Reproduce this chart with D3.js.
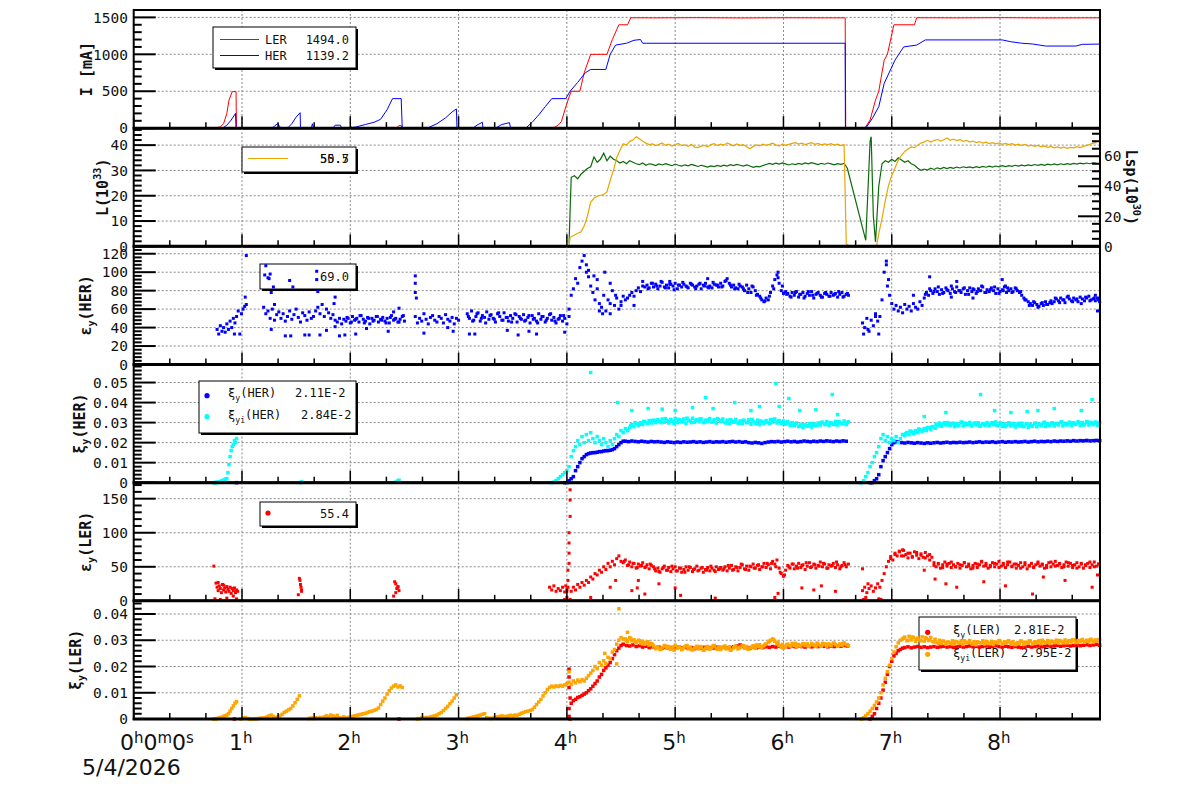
<!DOCTYPE html>
<html>
<head>
<meta charset="utf-8">
<script src="https://cdn.jsdelivr.net/npm/d3@7"></script>
<style>
body { margin: 0; background: #fff; }
svg { display: block; }
text { font-family: "DejaVu Sans Mono", monospace; fill: #111; }
</style>
</head>
<body>
<script>
// ---- data (time in hours since 0h0m0s) ----
var tMax = 8.923;
var hourTicks = [1, 2, 3, 4, 5, 6, 7, 8];
var dateLabel = "5/4/2026";

// panel 1 : beam currents [mA]
var curLER = [[0,0],[0.76,0],[0.80,20],[0.83,60],[0.86,200],[0.88,380],[0.91,495],[0.945,495],[0.947,230],[0.95,0],[0.96,8],
  [2.43,8],[2.45,35],[2.47,35],[2.48,8],[3.88,8],[3.92,40],[3.95,90],[3.99,290],[4.02,420],[4.04,500],[4.12,500],
  [4.16,750],[4.22,1000],[4.37,1000],[4.42,1200],[4.48,1400],[4.56,1400],[4.59,1495],[4.8,1493],[5.2,1496],[5.6,1492],
  [6.0,1495],[6.4,1493],[6.57,1494],[6.575,0],[6.75,0],[6.80,110],[6.85,380],[6.88,500],[6.93,920],[6.96,1000],
  [7.02,1400],[7.21,1400],[7.23,1495],[7.6,1493],[8.0,1496],[8.4,1492],[8.92,1494]];
var curHER = [[0,0],[0.82,0],[0.86,40],[0.90,110],[0.94,200],[0.945,0],[1.28,0],[1.30,30],[1.33,60],[1.36,0],
  [1.42,0],[1.46,60],[1.50,150],[1.537,210],[1.54,0],[1.64,0],[1.65,60],[1.66,0],[1.84,0],[1.86,40],[1.91,40],[1.92,0],
  [1.99,0],[2.00,20],[2.02,10],[2.05,15],[2.14,50],[2.22,80],[2.28,120],[2.34,250],[2.39,400],[2.47,400],[2.48,0],
  [2.71,0],[2.80,60],[2.88,140],[2.94,220],[2.98,260],[2.985,0],[3.13,0],[3.18,50],[3.22,80],[3.225,0],
  [3.34,0],[3.40,50],[3.47,75],[3.48,0],[3.62,0],[3.68,80],[3.74,180],[3.80,290],[3.86,400],[3.99,400],[4.03,500],
  [4.10,620],[4.17,750],[4.22,795],[4.36,795],[4.40,1000],[4.45,1125],[4.55,1150],[4.62,1190],[4.68,1200],[4.70,1150],
  [6.57,1150],[6.572,0],[6.76,0],[6.82,130],[6.88,290],[6.93,606],[7.03,922],[7.11,1100],[7.23,1125],[7.31,1195],
  [8.02,1195],[8.10,1170],[8.20,1150],[8.30,1140],[8.42,1112],[8.70,1112],[8.76,1135],[8.92,1139]];

// panel 2 : luminosity L [1e33] (left) and Lsp [1e30] (right)
var lumPts = [[0.95,0],[4.02,0],[4.03,3.7],[6.58,1],[6.60,0.3],[6.80,0.2],[6.84,0],[6.86,0.2]];
var lumSegs = [
  [4.04, 0.03, [3.8,4.5,5.2,5.7,8,12,17.5, 19,19.8,20.2,20.5,21.5, 26,30,35,38,40.5,40,41.5, 42,43.3,42.5,41.5,40.8,40.2,
    40.5,39.8,40.3,40.9,39.9,40.4,39.6,40.2,40.7,39.8, 40.1,39.5,40.3,39.2,39.0,39.6,39.9,39.3,40.2,40.6,
    39.8,40.4,40.0,40.9,40.3,39.7,40.5,39.9,40.2,39.4, 38.6,39.5,40.1,39.7,40.4,39.9,40.3,40.8,40.1,39.6,
    40.5,39.9,40.3,40.7,41.0,40.4,40.8,40.2,40.6,41.0, 40.3,40.7,40.1,40.5,40.2,40.6,40.0,40.4,39.8,40.2]],
  [6.88, 0.03, [5,11,18,24,28,31,34,36,37.5,38.5,39.3,39,40,
    40.8,41.3,41.9,41.2,41.8,42.3,41.6,42.1,42.8,41.9, 42.4,41.8,42.2,41.5,41.9,41.2,41.6,41.0,41.4,40.8,
    41.2,40.6,41.0,40.5,40.9,40.3,40.7,40.2,40.6,40.0, 40.4,39.8,40.3,39.6,40.0,39.5,39.9,39.3,39.7,39.1,
    39.5,38.9,39.3,38.8,39.2,38.7,39.1,38.9,39.4,39.0, 39.5,39.9,40.3,40.8,41.0]]
];
var lspPts = [[4.02,1.8],[6.59,52],[6.76,4],[6.80,70],[6.81,73],[6.83,20],[6.85,3],[6.88,40]];
var lspSegs = [
  [4.04, 0.03, [46,47,45,48,50,51.8,53, 59.6,56,58,62,57, 60,58,57,55.5,56.5,55,57, 56,55,54.5,55.5,54,55,
    54.6,53.8,54.9,54.2,55.1,54.4,53.7,54.8,54.0,53.5, 54.3,53.6,54.5,53.9,53.2,54.0,53.4,52.8,53.6,53.1,
    53.9,53.3,54.1,53.5,54.4,53.8,54.6,54.0,53.4,54.2, 53.5,52.6,53.3,52.9,53.8,54.5,55.2,54.6,55.4,54.8,
    55.6,54.9,54.2,55.0,54.4,55.2,54.6,55.5,54.9,55.7, 55.1,54.5,55.3,54.7,55.5,54.9,54.3,55.1,54.6,55.2]],
  [6.91, 0.03, [55,57,56,58,56.5,59,57.5,56,57,55,54,52,
    50.7,51.5,50.8,52.0,51.2,52.3,51.6,52.5,51.8,52.6, 52.0,52.8,52.2,53.0,52.4,52.9,52.3,53.1,52.5,53.2,
    52.7,53.4,52.8,53.5,53.0,53.7,53.1,53.8,53.3,54.0, 53.4,54.1,53.6,54.3,53.8,54.5,53.9,54.6,54.0,54.7,
    54.2,54.9,54.3,55.0,54.5,55.1,54.6,55.2,54.8,55.4, 54.9,55.5,55.0,55.6,55.2]]
];

// panel 3 : vertical emittance HER
var epsHERSegs = [
  [0.77, 0.015, [38,33,42,36,40,35,44,38,47,40,50,45,52,58,33,55,60,63,65]],
  [1.20, 0.02, [62,55,58,50,60,48,54,57, 50,55,47,52,58,49,54,60,51,46,56,53,48,57,50,52,
    58,62,55,65,52,60,56,50,54,48,46,50,44,49,
    47,50,45,52,48,50,46,53,49,47,51,44,50,48,52,46,49,51,47,50,45,53,48,50,46,49,52,47]],
  [2.60, 0.02, [52,45,50,47,55,49,44,51,53,48,46,52,50,45,54,49,47,51,44,50,48]],
  [3.08, 0.02, [55,50,58,48,52,56,47,53,51,57,49,54,50,46,55,52,48,56,51,47,53,50,55,46,52,49,54,48,51,45,
    53,50,47,55,49,52,46,50,54,48,51,45,49,53,47,50,44,52]],
  [4.02, 0.02, [60,75,82,93,88, 105,112,118,100,95, 85,78,70,82,66, 62,75,58,70,66,80,64,72,60,68,74,70,
    72,75,78,74,80,83,79,85,84,
    86,83,88,84,87,82,85,89,84,86,83,87,85,88,82,86,84,87,85,83,88,86,84,85,87,82,86,88,84,85,83,87,86,84,88,85,
    90,93,88,84,86,83,82,85, 84,80,86,82,78,84,80,76,74,70,68,72,70, 78,85,92,97,88,80,77,79,
    77,74,78,75,79,73,76,78,74,77,75,79,72,76,78,75,73,77,76,74,78,75,77,73,76,78,74,76,75]],
  [6.73, 0.02, [45,40,50,36,48,42,55,47,52,70,100,108,92]],
  [6.98, 0.02, [75,66,60,64,58,62,56,65,60,63,58,66,62,60,68,64,
    72,78,75,80,77,82,79,76,81,78,83,80,77,82,79,84,80,78,82,76,80,83,79,81,77,82,80,84,78,81,79,83,80,77,82,79,81,84,78,80,82,79,83,80,78,
    75,72,70,68,66,64,67,65,63,66,64,68,65,67,66,
    68,71,69,72,70,67,73,71,69,72,70,68,73,71,69,72,74,70,71,69,72,68]],
  // second reading pass between the samples above
  [1.97, 0.04, [51,46,49,53,45,50,47,52,48,45,51,49,46,53]],
  [3.09, 0.04, [52,47,55,50,45,53,49,56,48,51,46,54,50,47,53,49,45,52,48,55,47,50,53]],
  [4.75, 0.04, [82,88,85,90,83,87,81,86,89,84,87,82,88,85,83,89,86,84, 91,86,82,87, 82,78,85,75,72,69,74, 82,94,85,76,
    73,78,76,72,79,75,77,73,78,74,76,79,73,77]],
  [7.31, 0.04, [76,82,79,84,77,81,85,78,80,83,76,82,79,85,78,81,84,77,80,83,78,82,79, 70,64,68,62,67,65,69,
    72,67,70,74,68,71,66,73,69,72,70]]
];
var epsHERExtra = [[1.03,73],[1.04,118],[0.93,33],[1.21,97],[1.22,107],[1.24,94],[1.25,93],[1.26,98],[1.27,78],[1.29,84],
  [1.30,65],[1.27,38],[1.40,31],[1.44,91],[1.45,31],[1.47,84],[1.58,32],[1.62,32],[1.69,101],[1.69,92],[1.70,79],
  [1.72,32],[1.78,37],[1.85,66],[1.86,73],[1.86,41],[1.90,31],[1.95,32],[2.05,33],[2.15,39],[2.35,36],[2.40,57],[2.45,61],
  [2.60,96],[2.60,88],[2.60,78],[2.61,72],[2.68,34],[2.90,40],[2.95,36],
  [3.10,33],[3.15,33],[3.45,37],[3.55,32],[3.65,36],[3.72,33],[3.98,35],
  [4.18,108],[4.20,102],[4.25,96],[4.28,92],[4.30,58],[4.33,55],[4.35,100],[4.40,55],[4.40,88],[4.45,75],[4.50,64],
  [4.62,64],[4.70,90],[4.95,90],[5.30,93],[5.95,100],
  [6.74,33],[6.78,38],[6.85,52],[6.88,33],[6.95,112],[6.96,85],
  [7.20,75],[7.35,95],[7.55,73],[7.60,90],[7.75,72],[8.02,92],[8.05,85],[8.88,75],[8.90,58]];

// panel 4 : beam-beam parameter HER
var xiHERSegs = [
  [3.98, 0.02, [0,0,0.001,0.002,0.003,0.006,0.008,0.010,0.012,0.013,0.014,0.0145,0.0148,0.015,0.015,0.0152,0.0155,0.0155,
    0.0158,0.016,0.016,0.0162,0.0165,0.017,0.018,0.019,0.020,0.0207]],
  [4.54, 0.03, [.0207,.0205,.0208,.0206,.0204,.0207,.0205,.0203,.0206,.0204, .0205,.0203,.0201,.0204,.0202,.0200,.0203,.0201,.0204,.0202,
    .0203,.0205,.0202,.0204,.0201,.0203,.0205,.0202,.0204,.0203, .0205,.0202,.0204,.0206,.0203,.0205,.0202,.0204,.0200,.0198,
    .0201,.0199,.0196,.0200,.0203,.0205,.0204,.0206,.0203,.0205, .0207,.0204,.0206,.0203,.0205,.0208,.0206,.0204,.0207,.0205,
    .0208,.0206,.0209,.0207,.0205,.0208,.0206,.0209,.0207]],
  [6.80, 0.02, [0,0,0.001,0.002,0.004,0.008,0.011,0.013,0.015,0.017,0.019,0.020,0.0205,0.0203]],
  [7.09, 0.03, [.0200,.0198,.0201,.0199,.0197,.0200,.0198,.0196,.0199,.0197, .0199,.0201,.0198,.0200,.0202,.0199,.0201,.0200,.0202,.0200,
    .0201,.0203,.0200,.0202,.0204,.0201,.0203,.0202,.0204,.0201, .0203,.0205,.0202,.0204,.0203,.0205,.0203,.0204,.0206,.0203,
    .0205,.0207,.0204,.0206,.0205,.0207,.0205,.0208,.0206,.0208, .0207,.0209,.0207,.0210,.0208,.0210,.0209,.0211,.0209,.0210,
    .0211,.0210]]
];
var xiHERExtra = [[0.95,0]];
var xiiHERSegs = [
  [0.74, 0.01, [0,0,0.0002,0,0.0003,0.0005,0.0004,0.0008,0.001,0.0012,0.0015,0.0018,0.002,0.005,0.009,0.013,0.016,0.018,0.019,0.021,0.020,0.022]],
  [3.86, 0.02, [0,0.0003,0.001,0.002,0.003,0.004,0.005,0.006,0.008]],
  [4.04, 0.02, [0.013,0.016,0.018,0.021,0.019,0.023,0.020,0.024,0.021,0.025,0.022,0.020,0.023,0.021,0.019,0.022,0.020,0.018,
    0.021,0.019,0.022,0.024,0.023,0.026,0.025,0.027,0.026]],
  [4.58, 0.02, [.0275,.0290,.0280,.0295,.0285,.0300,.0290,.0305,.0295,.0310,.0298,.0312,
    .0300,.0315,.0305,.0318,.0302,.0312,.0298,.0316,.0306,.0320,.0300,.0314,.0304,.0318,.0296,.0312,.0308,.0322,.0302,.0315,.0305,.0318,.0300,.0312,.0306,.0320,.0302,.0314,.0298,.0316,
    .0305,.0318,.0300,.0312,.0296,.0310,.0302,.0316,.0298,.0308,.0295,.0310,.0300,.0314,.0292,.0306,.0298,.0312,.0290,.0305,.0296,.0310,.0300,.0315,.0302,.0318,.0298,.0310,.0295,.0308,
    .0292,.0305,.0288,.0300,.0285,.0298,.0280,.0292,.0275,.0288,.0282,.0295,.0278,.0290,.0284,.0298,.0288,.0302,.0290,.0305,.0286,.0300,.0292,.0306,.0288,.0302,.0294,.0308,.0290,.0304]],
  [6.72, 0.02, [0,0.001,0.003,0.005,0.008,0.010,0.013,0.015,0.018,0.022,0.024,0.021,0.023,0.020,0.022,0.021,0.023,0.020,0.022,0.024]],
  [7.12, 0.02, [.0235,.0250,.0240,.0255,.0245,.0260,.0250,.0265,.0255,.0270,.0260,.0275,.0265,.0280,.0272,
    .0285,.0298,.0282,.0295,.0288,.0300,.0285,.0296,.0280,.0294, .0287,.0302,.0284,.0297,.0289,.0301,.0283,.0296,.0288,.0299,
    .0282,.0295,.0286,.0300,.0284,.0298,.0290,.0303,.0285,.0297, .0281,.0294,.0287,.0299,.0283,.0296,.0278,.0292,.0284,.0297,
    .0280,.0293,.0276,.0290,.0282,.0295,.0279,.0292,.0285,.0298, .0281,.0294,.0286,.0299,.0283,.0296,.0288,.0301,.0284,.0297,
    .0289,.0302,.0286,.0299,.0291,.0304,.0287,.0300,.0292,.0305, .0288,.0301,.0290,.0303,.0287,.0300]],
  [4.59, 0.04, [.0285,.0300,.0292,.0306,.0298,.0310, .0310,.0300,.0320,.0308,.0296,.0316,.0304,.0322,.0300,.0312,.0318,.0302,.0314,.0306,.0320,
    .0310,.0298,.0315,.0304,.0296,.0312,.0300,.0316,.0294,.0308,.0302,.0296,.0314,.0305,.0300,
    .0298,.0286,.0294,.0282,.0290,.0284,.0296,.0288,.0300,.0292,.0298,.0290,.0304,.0296,.0300]],
  [7.13, 0.04, [.0245,.0258,.0250,.0268,.0262,.0275,.0278, .0292,.0285,.0300,.0290,.0296,.0284,.0302,.0292,.0288,.0298,
    .0284,.0294,.0290,.0300,.0286,.0296,.0280,.0292,.0288,.0296,.0282,.0294,.0286,.0298,.0290,.0302,.0288,.0296,.0292,.0304,
    .0290,.0298,.0294,.0300,.0288,.0302,.0296,.0298]]
];
var xiiHERExtra = [[1.54,0],[1.55,0.0005],[2.42,0.0003],[2.44,0.001],[2.45,0.0012],
  [4.22,0.055],[4.47,0.040],[4.60,0.036],[4.75,0.037],[4.88,0.0367],[5.00,0.036],[5.16,0.0375],[5.28,0.0425],[5.35,0.037],
  [5.55,0.040],[5.70,0.036],[5.78,0.038],[5.93,0.0495],[5.96,0.038],[6.05,0.042],[6.15,0.036],[6.30,0.0364],[6.45,0.044],[6.50,0.034],
  [7.30,0.033],[7.50,0.035],[7.82,0.044],[7.95,0.036],[8.10,0.035],[8.25,0.0355],[8.35,0.036],[8.50,0.037],[8.75,0.036],[8.85,0.0415]];

// panel 5 : vertical emittance LER
var epsLERSegs = [
  [0.76, 0.01, [26,20,15,22,18,12,24,16,19,13,21,17,14,20,11,18,15,19,12,16,14]],
  [3.84, 0.02, [20,16,22,14,18,15,20,13,17]],
  [4.04, 0.02, [14,20,16,24,20,27,23,30,27,35,32,40,38,45,42,50,46,55,50,58,53,62,66,58]],
  [4.52, 0.02, [56,60,52,57,50,55,48,54,51,56,49,53,47,52,
    50,44,48,42,47,51,45,49,43,47,50,44,48,42,46,50,45,49,43,47,51,45,48,42,46,49,44,48,45,50,46,
    49,45,50,44,48,52,46,50,44,49,53,47,51,45,50,54,48,52,46,50,55,49,53,47,
    58,54,60,48,40,36,45,
    52,48,54,47,51,55,49,53,46,51,56,50,54,48,52,57,50,54,48,53,51,55,49,53,47,52,56,50,54]],
  [6.73, 0.02, [15,20,12,18,22,14,19,25,20,30,40]],
  [6.95, 0.02, [50,58,65,60,70,66, 72,66,74,68,63,70,65,72,67,62,69,64,71,66,60,64,
    56,50,54,48,53,57,51,55,49,53, 50,55,48,52,56,50,54,47,52,55, 49,53,57,51,55,48,52,56,50,54,
    58,51,55,49,53,57,50,54,48,52, 56,50,53,47,51,55,49,53,57,51, 54,48,52,56,50,54,58,52,55,49,
    53,57,51,55,49,53,56,50,54,48, 52,55,49,53,57,51,54]],
  [4.53, 0.04, [58,53,55,49,52,50,54, 47,43,49,45,51,44,48,42,50,46,44,49,45,51,43,47, 47,52,45,49,54,46,51,48,53,50,55,
    55,50,42,38, 50,54,48,52,56,49,53,51,55,48,52,57,50,53]],
  [6.99, 0.04, [62,68,73,66,70,64,71,67,63,68, 52,55,49,54,57,50,53,56,51,48,54,58,52,50,55,49,53,57,51,54,48,56,52,50,55,
    53,49,57,51,54,50,56,52,48,55,53,57,50,54]]
];
var epsLERExtra = [[0.74,51],[0.75,3],[0.78,27],[0.80,2],[0.83,23],[0.86,4],[0.92,7],[0.95,3],
  [1.52,9],[1.53,33],[1.535,30],[1.54,24],[1.545,20],[1.55,16],[1.55,14],
  [2.40,7],[2.41,28],[2.42,25],[2.42,12],[2.43,18],[2.44,20],[2.44,21],[2.45,15],
  [3.98,2],[3.99,22],[4.00,5],[4.00,14],[4.01,20],[4.01,30],[4.01,45],[4.02,55],[4.02,70],[4.02,85],[4.02,100],
  [4.03,124],[4.03,148],[4.03,163],[4.03,2],
  [4.22,5],[4.40,20],[4.45,30],[4.60,15],[4.65,19],[4.66,30],[4.72,10],[4.85,25],[5.00,19],[5.05,8],[5.37,4],
  [5.92,5],[5.95,11],[6.17,19],[6.28,16],[6.35,22],[6.48,14],
  [6.73,47],[6.74,2],[6.76,5],[6.78,25],[6.88,3],[6.90,2],
  [7.10,75],[7.30,45],[7.40,32],[7.50,25],[7.60,20],[7.85,28],[8.05,22],[8.30,10],[8.40,35],[8.60,30],[8.85,20],[8.90,38]];

// panel 6 : beam-beam parameter LER
var xiLERSegs = [
  [4.04, 0.02, [.0060,.0070,.0075,.0082,.0085,.0090,.0095,.0100,.0108,.0115,.0125,.0135,.0145,.0160,.0170,.0185,.0195,.0205,
    .0215,.0230,.0245,.0260,.0270,.0280]],
  [4.52, 0.03, [.0285,.0280,.0278,.0282,.0276,.0279,.0274,.0277,.0272,.0275, .0271,.0274,.0270,.0273,.0269,.0272,.0270,.0274,.0271,.0273,
    .0269,.0272,.0268,.0271,.0270,.0273,.0269,.0272,.0270,.0274, .0271,.0273,.0270,.0272,.0275,.0278,.0282,.0276,.0272,.0270,
    .0273,.0271,.0274,.0272,.0275,.0273,.0276,.0274,.0277,.0275, .0276,.0274,.0277,.0275,.0278,.0276,.0274,.0277,.0275,.0278,
    .0276,.0279,.0277,.0275,.0278,.0276,.0279,.0277,.0280,.0278]],
  [6.80, 0.02, [0,.001,.002,.004,.006,.008,.011,.014,.017,.020,.022,.024,.025,.026,.0265,.027]],
  [7.12, 0.03, [.0272,.0275,.0271,.0274,.0276,.0273,.0275,.0272,.0274,.0276, .0273,.0275,.0277,.0274,.0276,.0273,.0275,.0277,.0274,.0276,
    .0278,.0275,.0277,.0274,.0276,.0278,.0275,.0277,.0279,.0276, .0274,.0277,.0275,.0273,.0276,.0274,.0272,.0275,.0277,.0274,
    .0276,.0278,.0275,.0277,.0279,.0276,.0278,.0280,.0277,.0279, .0281,.0278,.0280,.0282,.0279,.0281,.0283,.0280,.0282,.0284,
    .0281]]
];
var xiLERExtra = [[0.93,0],[2.45,0],[4.02,0.019],[4.02,0.016],[4.02,0.012],[4.03,0.008],[4.02,0.004],[4.02,0.001],[4.03,0]];
var xiiLERSegs = [
  [0.74, 0.015, [0,0,.0002,.0003,.0005,.0007,.0010,.0012,.0015,.0020,.0030,.0040,.0050,.0060,.0066]],
  [0.99, 0.02, [0,.0003,.0006,.0002,0,0,0,0,.0002,.0003,.0004,.0005,.0008,.0012,.0015,.0010,.0005,.0008,.0012,.0018,.0025,.0030,
    .0035,.0040,.0050,.0062,.0075,.0088]],
  [1.62, 0.02, [.0002,.0004,.0002,.0005,.0003,.0006,.0004,.0008,.0012,.0010,.0015,.0012,.0008,.0014,.0005,.0003,.0008,.0004,.0006,.0008,
    .0010,.0012,.0014,.0016,.0018,.0020,.0022,.0025,.0028,.0030,.0033,.0036,.0042,.0055,.0068,.0080,.0095,.0108,.0118,.0125,
    .0130,.0122,.0126,.0120]],
  [2.62, 0.02, [0,.0002,.0004,.0003,.0006,.0005,.0008,.0010,.0012,.0015,.0020,.0025,.0032,.0040,.0048,.0058,.0068,.0080,.0092]],
  [3.08, 0.02, [.0002,.0004,.0006,.0008,.0010,.0012,.0015,.0018,.0020,.0005,.0003,.0002,.0004,.0006,.0008,.0010,.0012,.0009,
    .0010,.0012,.0014,.0012,.0015,.0014,.0018,.0022,.0025,.0028,.0030,.0032,.0036,.0045,.0055,.0065,.0075,.0088,.0100,.0112,.0120,
    .0125,.0122,.0126,.0124,.0128,.0125,.0130]],
  [4.00, 0.02, [.0135,.0140,.0132,.0145,.0138,.0148,.0142,.0150,.0145,.0155,.0165,.0175,.0185,.0200,.0192,.0215,.0205,.0222,.0212,
    .0235,.0230,.0255,.0265,.0285,.0300,.0310,.0305]],
  [4.54, 0.02, [.0305,.0295,.0310,.0298,.0302,.0292,.0300,.0288,.0296,.0285,.0292,.0282,.0288,
    .0278,.0268,.0275,.0265,.0272,.0280,.0270,.0276,.0266,.0274, .0281,.0269,.0275,.0264,.0272,.0278,.0268,.0274,.0263,.0271,
    .0277,.0267,.0274,.0262,.0270,.0276,.0266,.0273,.0280,.0269, .0275,.0265,.0272,.0278,.0268,.0275,.0264,.0271,.0277,.0267,
    .0274,.0280,.0270,.0276,.0266,.0273,.0279,.0269,.0276,.0283, .0272,.0279,.0286,
    .0292,.0300,.0305,.0296,.0288,.0280,.0274,.0270,
    .0276,.0285,.0279,.0288,.0281,.0275,.0284,.0278,.0287,.0280, .0286,.0279,.0288,.0282,.0276,.0285,.0279,.0288,.0283,.0277,
    .0286,.0280,.0289,.0283,.0277,.0286,.0281,.0290,.0284,.0279]],
  [6.72, 0.02, [0,.0005,.0012,.0020,.0030,.0040,.0052,.0065,.0080,.0100,.0130,.0155,.0180,.0205,.0230,.0255,.0275,.0290,.0300]],
  [7.10, 0.02, [.0305,.0312,.0298,.0315,.0302,.0310,.0296,.0308,.0300,.0313,.0297,.0306,.0299,.0310,.0295,.0304,
    .0292,.0300,.0288,.0296,.0285,.0294,.0290,.0298,.0286,.0295, .0289,.0297,.0284,.0293,.0291,.0299,.0287,.0295,.0283,.0292,
    .0290,.0298,.0286,.0294,.0288,.0296,.0284,.0293,.0289,.0297, .0285,.0294,.0290,.0298,.0287,.0295,.0283,.0291,.0288,.0296,
    .0284,.0292,.0289,.0297,.0286,.0294,.0290,.0298,.0287,.0295, .0291,.0299,.0288,.0296,.0292,.0300,.0289,.0297,.0293,.0301,
    .0290,.0298,.0294,.0302,.0291,.0299,.0295,.0303,.0292,.0300, .0296,.0304,.0293,.0301,.0297,.0303]],
  [4.55, 0.04, [.0300,.0306,.0294,.0298,.0290,.0294,.0284,
    .0272,.0266,.0278,.0270,.0262,.0275,.0268,.0280,.0265,.0272,.0276,.0264,.0270,.0278,.0266,.0274,.0268,.0262,.0276,.0270,.0279,.0267,.0274,.0282,.0275,.0284,
    .0296,.0302,.0292,.0284, .0282,.0278,.0288,.0280,.0286,.0277,.0284,.0289,.0279,.0286,.0282,.0288,.0280,.0287,.0283]],
  [7.11, 0.04, [.0308,.0300,.0312,.0304,.0298,.0309,.0301, .0294,.0288,.0297,.0291,.0286,.0295,.0289,.0298,.0292,.0285,.0294,.0290,
    .0296,.0287,.0293,.0299,.0288,.0295,.0291,.0286,.0297,.0292,.0298,.0289,.0294,.0300,.0291,.0296,.0293,.0299,.0290,.0297,.0302,
    .0293,.0299,.0295,.0301,.0296,.0302]]
];
var xiiLERExtra = [[4.02,0.018],[4.35,0.025],[4.46,0.021],[4.48,0.042],[4.56,0.033]];

// axes
var yMax   = [1600, 46.7, 128, 0.059, 173.5, 0.045];
var yMajor = [500, 10, 20, 0.01, 50, 0.01];
var yMinor = [100, 2, 4, 0.002, 10, 0.002];
var lspMax = 78.7, lspMajor = 20, lspMinor = 5;

// ---- layout ----
var W = 1200, H = 798,
	X0 = 133.7, X1 = 1100, TOP = 10, PH = 118.17;

var svg = d3.select("body").append("svg")
	.attr("width", W)
	.attr("height", H);
svg.append("rect").attr("width", W).attr("height", H).attr("fill", "#fff");

var x = d3.scaleLinear().domain([0, tMax]).range([X0, X1]);

function seg(list){
	var out = [];
	list.forEach(function(s){
		s[2].forEach(function(v, i){ out.push([s[0] + i * s[1], v]); });
	});
	return out;
}
function sorted(a){ return a.slice().sort(function(p, q){ return p[0] - q[0]; }); }

function steps(max, step){
	var n = Math.floor(max / step + 1e-6), r = [];
	for (var k = 0; k <= n; k++) r.push(+(k * step).toFixed(6));
	return r;
}
function isMajor(v, major){ return Math.abs(v / major - Math.round(v / major)) < 1e-6; }

function rich(sel, parts, fs){
	var shift = 0;
	parts.forEach(function(p){
		var kind = p[1] || "n",
			target = kind === "sub" ? 4 : kind === "sup" ? -7 : 0;
		sel.append("tspan")
			.attr("dy", target - shift)
			.attr("font-size", kind === "n" ? fs : fs * 0.68)
			.text(p[0]);
		shift = target;
	});
}

function makePanel(i){
	var pTop = TOP + i * PH, pBot = pTop + PH;
	var yy = d3.scaleLinear().domain([0, yMax[i]]).range([pBot, pTop]);
	var g = svg.append("g");
	var grid = g.append("g").attr("stroke", "#8a8a8a").attr("stroke-dasharray", "2,2").attr("stroke-width", 1);
	hourTicks.forEach(function(h){
		grid.append("line").attr("x1", x(h)).attr("x2", x(h)).attr("y1", pTop).attr("y2", pBot);
	});
	steps(yMax[i], yMajor[i]).filter(function(v){ return v > 0; }).forEach(function(v){
		grid.append("line").attr("x1", X0).attr("x2", X1).attr("y1", yy(v)).attr("y2", yy(v));
	});
	return { g: g, y: yy, top: pTop, bot: pBot, legend: g.append("g"), data: g.append("g") };
}
var panels = d3.range(6).map(makePanel);

function line(p, yy, data, color, w){
	p.data.append("path").datum(data)
		.attr("d", d3.line().x(function(d){ return x(d[0]); }).y(function(d){ return yy(d[1]); }))
		.attr("fill", "none").attr("stroke", color).attr("stroke-width", w);
}
function dots(p, data, color, s){
	p.data.append("g").selectAll("rect").data(data).join("rect")
		.attr("x", function(d){ return x(d[0]) - s / 2; })
		.attr("y", function(d){ return p.y(d[1]) - s / 2; })
		.attr("width", s).attr("height", s)
		.attr("fill", color);
}
function box(p, x0, y0, x1, y1){
	p.legend.append("rect").attr("x", x0 + 2).attr("y", y0 + 2).attr("width", x1 - x0).attr("height", y1 - y0).attr("fill", "#000");
	p.legend.append("rect").attr("x", x0).attr("y", y0).attr("width", x1 - x0).attr("height", y1 - y0)
		.attr("fill", "#fff").attr("stroke", "#000").attr("stroke-width", 1);
}
function ltext(p, tx, ty, parts, anchor){
	var t = p.legend.append("text").attr("x", tx).attr("y", ty).attr("font-size", 12)
		.attr("text-anchor", anchor || "start");
	rich(t, parts, 12);
}

var cRed = "#ff0000", cBlue = "#0000ff", cCyan = "#00ffff", cOrange = "#ffa500", cGold = "#e8a600", cGreen = "#0b6b0b";

// panel 1
var p = panels[0];
box(p, 213, 27, 356, 68);
p.legend.append("line").attr("x1", 220).attr("x2", 259).attr("y1", 39.5).attr("y2", 39.5).attr("stroke", cRed);
p.legend.append("line").attr("x1", 220).attr("x2", 259).attr("y1", 55.5).attr("y2", 55.5).attr("stroke", cBlue);
ltext(p, 265, 44, [["LER"]]); ltext(p, 349, 44, [["1494.0"]], "end");
ltext(p, 265, 60, [["HER"]]); ltext(p, 349, 60, [["1139.2"]], "end");
line(p, p.y, curLER, cRed, 1);
line(p, p.y, curHER, cBlue, 1);

// panel 2
p = panels[1];
var y2 = d3.scaleLinear().domain([0, lspMax]).range([p.bot, p.top]);
box(p, 242, 147, 356, 172);
p.legend.append("line").attr("x1", 248).attr("x2", 288).attr("y1", 158.5).attr("y2", 158.5).attr("stroke", cGold);
ltext(p, 349, 163, [["50.5"]], "end");
ltext(p, 349, 163, [["55.7"]], "end");
line(p, y2, sorted(lspPts.concat(seg(lspSegs))), cGreen, 1.2);
line(p, p.y, sorted(lumPts.concat(seg(lumSegs))), cGold, 1.2);

// panel 3
p = panels[2];
box(p, 260, 264, 356, 289);
ltext(p, 349, 281, [["69.0"]], "end");
dots(p, seg(epsHERSegs).concat(epsHERExtra), cBlue, 3);

// panel 4
p = panels[3];
box(p, 199, 381, 356, 433);
p.legend.append("circle").attr("cx", 207).attr("cy", 395.7).attr("r", 2.6).attr("fill", cBlue);
p.legend.append("circle").attr("cx", 207).attr("cy", 416.7).attr("r", 2.6).attr("fill", cCyan);
ltext(p, 228, 397, [["ξ"], ["y", "sub"], ["(HER)"]]); ltext(p, 295, 397, [["2.11E-2"]]);
ltext(p, 228, 419, [["ξ"], ["yi", "sub"], ["(HER)"]]); ltext(p, 301, 419, [["2.84E-2"]]);
dots(p, seg(xiHERSegs).concat(xiHERExtra), cBlue, 3.5);
dots(p, seg(xiiHERSegs).concat(xiiHERExtra), cCyan, 3.5);

// panel 5
p = panels[4];
box(p, 260, 502, 356, 526);
p.legend.append("circle").attr("cx", 268).attr("cy", 513).attr("r", 2.6).attr("fill", cRed);
ltext(p, 349, 518, [["55.4"]], "end");
dots(p, seg(epsLERSegs).concat(epsLERExtra), cRed, 3);

// panel 6
p = panels[5];
box(p, 919, 617, 1076, 670);
p.legend.append("circle").attr("cx", 927.7).attr("cy", 632.3).attr("r", 2.6).attr("fill", cRed);
p.legend.append("circle").attr("cx", 927.7).attr("cy", 654.3).attr("r", 2.6).attr("fill", cOrange);
ltext(p, 953, 634, [["ξ"], ["y", "sub"], ["(LER)"]]); ltext(p, 1014, 634, [["2.81E-2"]]);
ltext(p, 953, 657, [["ξ"], ["yi", "sub"], ["(LER)"]]); ltext(p, 1021, 657, [["2.95E-2"]]);
dots(p, seg(xiLERSegs).concat(xiLERExtra), cRed, 3.5);
dots(p, seg(xiiLERSegs).concat(xiiLERExtra), cOrange, 3.5);

// frames, ticks, labels
var titles = [
	[[["I [mA]"]], 92],
	[[["L(10"], ["33", "sup"], [")"]], 108],
	[[["ε"], ["y", "sub"], ["(HER)"]], 91],
	[[["ξ"], ["y", "sub"], ["(HER)"]], 85],
	[[["ε"], ["y", "sub"], ["(LER)"]], 91],
	[[["ξ"], ["y", "sub"], ["(LER)"]], 81]
];
var xMinor = steps(tMax, 1 / 3);

panels.forEach(function(pp, i){
	var a = pp.g.append("g").attr("stroke", "#000");
	steps(yMax[i], yMinor[i]).forEach(function(v){
		var len = isMajor(v, yMajor[i]) ? 22 : 8;
		a.append("line").attr("x1", X0).attr("x2", X0 + len).attr("y1", pp.y(v)).attr("y2", pp.y(v)).attr("stroke-width", 2);
	});
	xMinor.forEach(function(h){
		var len = isMajor(h, 1) ? 12 : 6;
		a.append("line").attr("x1", x(h)).attr("x2", x(h)).attr("y1", pp.bot).attr("y2", pp.bot - len).attr("stroke-width", 1.5);
	});
	pp.g.append("rect").attr("x", X0).attr("y", pp.top).attr("width", X1 - X0).attr("height", PH)
		.attr("fill", "none").attr("stroke", "#000").attr("stroke-width", 2);
	pp.g.append("line").attr("x1", X0 - 1).attr("x2", X1 + 1).attr("y1", pp.bot).attr("y2", pp.bot)
		.attr("stroke", "#000").attr("stroke-width", 3);

	pp.g.append("g").selectAll("text").data(steps(yMax[i], yMajor[i])).join("text")
		.attr("x", 128).attr("y", function(v){ return pp.y(v); })
		.attr("dy", "0.36em").attr("text-anchor", "end").attr("font-size", 14.5)
		.text(function(v){ return v === 0 ? "0" : String(v); });

	var t = svg.append("text")
		.attr("transform", "translate(" + titles[i][1] + "," + (pp.top + PH / 2) + ") rotate(-90)")
		.attr("text-anchor", "middle").attr("font-weight", "bold");
	rich(t, titles[i][0], 15);
});

// right axis of panel 2
p = panels[1];
var ra = p.g.append("g").attr("stroke", "#000");
steps(lspMax, lspMinor).forEach(function(v){
	var len = isMajor(v, lspMajor) ? 22 : 8;
	ra.append("line").attr("x1", X1).attr("x2", X1 - len).attr("y1", y2(v)).attr("y2", y2(v)).attr("stroke-width", 2);
});
p.g.append("g").selectAll("text").data(steps(lspMax, lspMajor)).join("text")
	.attr("x", 1104).attr("y", function(v){ return y2(v); })
	.attr("dy", "0.36em").attr("font-size", 14.5)
	.text(function(v){ return String(v); });
var rt = svg.append("text")
	.attr("transform", "translate(1126," + (p.top + PH / 2) + ") rotate(90)")
	.attr("text-anchor", "middle").attr("font-weight", "bold");
rich(rt, [["Lsp(10"], ["30", "sup"], [")"]], 15);

// time axis labels
var sans = "'DejaVu Sans', sans-serif";
var t0 = svg.append("text").attr("x", 120).attr("y", 750).style("font-family", sans);
rich(t0, [["0"], ["h", "sup"], ["0"], ["m", "sup"], ["0"], ["s", "sup"]], 22);
hourTicks.forEach(function(h){
	var t = svg.append("text").attr("x", x(h) - 13).attr("y", 750).style("font-family", sans);
	rich(t, [[String(h)], ["h", "sup"]], 22);
});
svg.append("text").attr("x", 82).attr("y", 775).attr("font-size", 22)
	.style("font-family", sans).text(dateLabel);
</script>
</body>
</html>
